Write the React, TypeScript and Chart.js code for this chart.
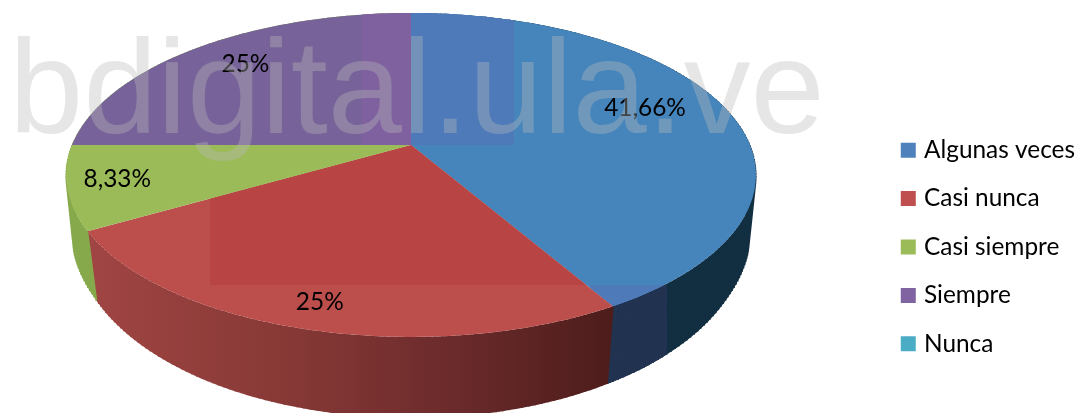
import React, { useEffect, useRef } from "react";
import { Chart, registerables } from "chart.js";

Chart.register(...registerables);

const categories = ["Algunas veces", "Casi nunca", "Casi siempre", "Siempre", "Nunca"];
const percentages = [41.66, 25, 8.33, 25, 0];
const valueLabels = ["41,66%", "25%", "8,33%", "25%", ""];
const legendColors = ["#4F81BD", "#BE4F4E", "#9BBB59", "#8064A2", "#4BACC6"];
const topColors = ["#4585BC", "#BC4E4C", "#9BBB59", "#776399", "#4BACC6"];
const tileColors = ["#4E7ABA", "#B94444", "#9BBB59", "#7F619F", "#4BACC6"];
const watermark = "bdigital.ula.ve";

// perspective of the pie disc
const CX = 411, CY = 145, RX = 339, RY = 156.4, K = 0.185;
const projectR = (a: number, r: number) => {
  const ux = r * Math.cos(a), uy = r * Math.sin(a), d = 1 - K * uy;
  return { x: CX + (RX * ux) / d, y: CY + (RY * uy) / d };
};
const project = (a: number) => projectR(a, 1);
const lower = (p: { x: number; y: number }) => {
  const t = Math.min(1, Math.max(0, (p.y - 190) / 42));
  return {
    x: CX + (0.98 - 0.008 * t) * (p.x - CX),
    y: 205 + 1.11 * (p.y - CY),
  };
};

const pie3d = {
  id: "pie3d",
  beforeDatasetDraw(chart: any) {
    const ctx: CanvasRenderingContext2D = chart.ctx;
    const arcs = chart.getDatasetMeta(0).data;

    const sideGradient = (i: number) => {
      if (i === 1) {
        const g = ctx.createLinearGradient(90, 0, 612, 0);
        g.addColorStop(0, "#A04543");
        g.addColorStop(0.4, "#853835");
        g.addColorStop(0.7, "#6B2A2B");
        g.addColorStop(1, "#4D1D1B");
        return g;
      }
      if (i === 0) return "#122F42";
      if (i === 2) return "#86A94C";
      if (i === 3) return "#86A94C";
      return "#37808F";
    };

    const arcPoints = (s: number, e: number) => {
      const pts = [];
      const n = Math.max(2, Math.ceil(((e - s) / (Math.PI * 2)) * 360));
      for (let j = 0; j <= n; j++) pts.push(project(s + ((e - s) * j) / n));
      return pts;
    };

    // side walls
    arcs.forEach((arc: any, i: number) => {
      const { startAngle: s, endAngle: e } = arc;
      if (e - s <= 0) return;
      const top = arcPoints(s, e);
      const paint = (style: any) => {
        ctx.fillStyle = style;
        ctx.strokeStyle = style;
        ctx.lineWidth = 1.5;
        ctx.beginPath();
        top.forEach((p, j) => (j ? ctx.lineTo(p.x, p.y) : ctx.moveTo(p.x, p.y)));
        [...top].reverse().forEach((p) => {
          const q = lower(p);
          ctx.lineTo(q.x, q.y);
        });
        ctx.closePath();
        ctx.fill();
        // sweep between rims, so the silhouette runs straight from rim to rim
        ctx.beginPath();
        top.forEach((p) => {
          const q = lower(p);
          ctx.moveTo(p.x, p.y);
          ctx.lineTo(q.x, q.y);
        });
        ctx.stroke();
      };
      paint(sideGradient(i));
      if (i === 0) {
        ctx.save();
        ctx.beginPath();
        ctx.rect(590, 285, 77, 110);
        ctx.clip();
        paint("#213350");
        ctx.restore();
      }
    });

    // top faces
    const tiles: Record<number, number[][]> = {
      0: [[411, 0, 103, 145], [590, 285, 77, 30]],
      1: [[210, 145, 420, 140]],
      3: [[362, 0, 49, 145]],
    };
    arcs.forEach((arc: any, i: number) => {
      const { startAngle: s, endAngle: e } = arc;
      if (e - s <= 0) return;
      const pts = arcPoints(s, e);
      const tracePath = () => {
        ctx.beginPath();
        ctx.moveTo(CX, CY);
        pts.forEach((p) => ctx.lineTo(p.x, p.y));
        ctx.closePath();
      };
      ctx.fillStyle = topColors[i];
      tracePath();
      ctx.fill();
      (tiles[i] || []).forEach((t) => {
        ctx.save();
        ctx.beginPath();
        ctx.rect(t[0], t[1], t[2], t[3]);
        ctx.clip();
        ctx.fillStyle = tileColors[i];
        tracePath();
        ctx.fill();
        ctx.restore();
      });
    });

    // value labels
    const radial = [0.74, 0.877, 0.86, 0.81, 0];
    const nudgeX = [0, 0, 0, 10, 0];
    const nudgeY = [-8, 0, -2, 0, 0];
    ctx.fillStyle = "#000";
    ctx.font = '24.4px Lato, "Open Sans", sans-serif';
    ctx.textAlign = "center";
    ctx.textBaseline = "middle";
    arcs.forEach((arc: any, i: number) => {
      if (!valueLabels[i]) return;
      const p = projectR((arc.startAngle + arc.endAngle) / 2, radial[i]);
      ctx.fillText(valueLabels[i], p.x + nudgeX[i], p.y + nudgeY[i]);
    });
    return false;
  },
  afterDraw(chart: any) {
    const ctx: CanvasRenderingContext2D = chart.ctx;
    ctx.save();
    ctx.fillStyle = "rgba(186,186,186,0.36)";
    ctx.font = '133.4px "Liberation Sans", Arial, sans-serif';
    ctx.textAlign = "left";
    ctx.textBaseline = "alphabetic";
    ctx.fillText(watermark, 9, 133);
    ctx.restore();
  },
};

export default function App() {
  const ref = useRef<HTMLCanvasElement>(null);
  useEffect(() => {
    document.body.style.margin = "0";
    document.body.style.background = "#fff";
    const chart = new Chart(ref.current!, {
      type: "pie",
      data: {
        labels: categories,
        datasets: [{ data: percentages, backgroundColor: legendColors, borderWidth: 0 }],
      },
      options: {
        responsive: false,
        animation: false,
        layout: { padding: { top: 81, right: 4, bottom: 0, left: 0 } },
        plugins: {
          tooltip: { enabled: false },
          legend: {
            position: "right",
            labels: {
              boxWidth: 7,
              boxHeight: 7,
              padding: 24,
              color: "#000",
              font: { size: 24.4, family: 'Lato, "Open Sans", sans-serif' },
              generateLabels: () =>
                categories.map((text, i) => ({
                  text,
                  fillStyle: legendColors[i],
                  strokeStyle: legendColors[i],
                  lineWidth: 8,
                  hidden: false,
                  index: i,
                })),
            },
          },
        },
      },
      plugins: [pie3d],
    });
    return () => chart.destroy();
  }, []);
  return <canvas ref={ref} width={1089} height={413} style={{ display: "block" }} />;
}
